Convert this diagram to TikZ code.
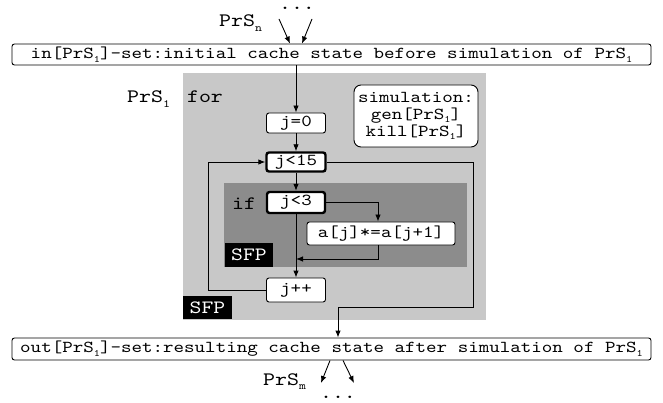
\documentclass[tikz,border=0pt]{standalone}
\usepackage{fontspec}
\setmonofont[FakeStretch=1.2]{lmmono10-regular.otf}
\usetikzlibrary{arrows.meta}
\definecolor{lgray}{RGB}{200,200,200}
\definecolor{dgray}{RGB}{140,140,140}
\newcommand\mysub[1]{\raisebox{-0.5ex}{\fontsize{9.8}{9.8}\selectfont #1}}
\newcommand\mylsub[1]{\raisebox{-0.55ex}{\fontsize{11}{11}\selectfont #1}}
\begin{document}
\begin{tikzpicture}[x=1pt,y=-1pt,
  font=\ttfamily\fontsize{16.7}{16.7}\selectfont,
  box/.style={draw, line width=0.9pt, rounded corners=2.5pt, fill=white, inner sep=0pt, align=center},
  thickbox/.style={box, line width=2.4pt},
  sfpbox/.style={fill=black, text=white, inner sep=0pt, font=\ttfamily\fontsize{18.8}{18.8}\selectfont},
  lbl/.style={inner sep=0pt, font=\ttfamily\fontsize{19}{19}\selectfont},
  conn/.style={line width=0.9pt, -{Latex[length=7pt,width=5.5pt]}},
  plain/.style={line width=0.9pt}]
\useasboundingbox (0,0) rectangle (663,403);

% regions
\fill[lgray] (183,73) rectangle (486,320);
\fill[dgray] (224,183) rectangle (467,267);

% top labels
\node[lbl, anchor=base west] (prsn) at (219,27) {PrS\mylsub{n}};
\node[lbl, anchor=base, text height=4pt] (dotst) at (297,10) {...};
\coordinate (t1) at (279,19);
\coordinate (t2) at (312,19);

% main boxes
\node[box, minimum width=639, minimum height=21] (in) at (331.5,54.5)
  {in[PrS\mysub{1}]-set:initial cache state before simulation of PrS\mysub{1}};
\node[box, minimum width=639, minimum height=22] (out) at (331.5,349)
  {out[PrS\mysub{1}]-set:resulting cache state after simulation of PrS\mysub{1}};

\node[lbl, anchor=base west] (forlbl) at (127,103) {PrS\mylsub{1}\hspace{17pt}for};
\node[box, rounded corners=7pt, minimum width=124, minimum height=62] (sim) at (416,116)
  {\fontsize{16.7}{19.5}\selectfont simulation:\\gen[PrS\mysub{1}]\\kill[PrS\mysub{1}]};

\node[box, minimum width=59, minimum height=20] (j0) at (296,123) {j=0};
\node[thickbox, minimum width=59, minimum height=19] (j15) at (296,162) {j<15};
\node[lbl, anchor=base west] (iflbl) at (232,210) {if};
\node[thickbox, minimum width=58, minimum height=21] (j3) at (296,202.5) {j<3};
\node[box, minimum width=148, minimum height=23] (a) at (381,233.5) {a[j]*=a[j+1]};
\node[box, minimum width=59, minimum height=24] (jpp) at (296,290) {j++};
\node[sfpbox, minimum width=48, minimum height=24] (sfp1) at (249,255) {SFP};
\node[sfpbox, minimum width=49, minimum height=23] (sfp2) at (207.5,307.5) {SFP};

% connectors
\draw[conn] (t1) -- ([xshift=-41.5]in.north);
\draw[conn] (t2) -- ([xshift=-29.5]in.north);
\draw[conn] (j0.north |- in.south) -- (j0.north);
\draw[conn] (j0.south) -- (j15.north);
\draw[conn] (j15.south) -- (j3.north);
\draw[conn] (j3.east) -| ([xshift=-3]a.north);
\coordinate (merge) at (296,259);
\draw[conn] ([xshift=-3]a.south) |- (merge);
\draw[conn] (j3.south) -- (jpp.north);
\coordinate (lp) at (208,225);
\draw[conn] (jpp.west) -- (jpp.west -| lp) |- (j15.west);
\coordinate (ex) at (473,307);
\coordinate (ein) at (338,307);
\draw[conn] (j15.east) -| (ex) -- (ein) -- (ein |- out.north);

% bottom
\coordinate (b1) at (321,383);
\coordinate (b2) at (354,383);
\draw[conn] ([xshift=-1.5]out.south) -- (b1);
\draw[conn] ([xshift=11.5]out.south) -- (b2);
\node[lbl, anchor=base west] (prsm) at (263,385) {PrS\mylsub{m}};
\node[lbl, anchor=base] (dotsb) at (338,398) {...};
\end{tikzpicture}
\end{document}
